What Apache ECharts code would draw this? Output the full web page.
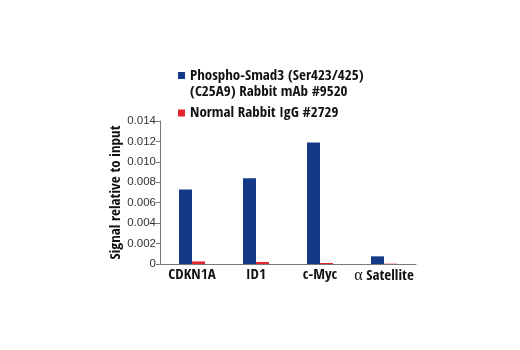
<!DOCTYPE html>
<html>
<head>
<meta charset="utf-8">
<script src="https://cdn.jsdelivr.net/npm/echarts@6/dist/echarts.min.js"></script>
<style>
  html, body { margin: 0; padding: 0; background: #fff; }
  #chart { width: 520px; height: 350px; }
</style>
</head>
<body>
<div id="chart"></div>
<script>
// ChIP signal per target locus
const categories = ['CDKN1A', 'ID1', 'c-Myc', '\u03b1 Satellite'];
const smad3Values = [0.0073, 0.0084, 0.0119, 0.00075];
const iggValues = [0.00025, 0.0002, 0.0001, 0.00003];
const yTicks = [0, 0.002, 0.004, 0.006, 0.008, 0.010, 0.012, 0.014];

const smad3Name = 'Phospho-Smad3 (Ser423/425)\n(C25A9) Rabbit mAb #9520';
const iggName = 'Normal Rabbit IgG #2729';

const BLUE = '#143a87';
const RED = '#e5262f';
const CONDENSED = '"Open Sans Condensed", "Liberation Sans Narrow", sans-serif';

const chart = echarts.init(document.getElementById('chart'), null, { renderer: 'canvas' });

chart.setOption({
  animation: false,
  backgroundColor: '#fff',
  grid: { left: 160, top: 121, width: 256, height: 143, containLabel: false },
  legend: {
    orient: 'vertical',
    left: 173,
    top: 63,
    itemGap: 1,
    itemWidth: 7,
    itemHeight: 24,
    selectedMode: false,
    textStyle: { fontFamily: CONDENSED, fontWeight: 700, fontSize: 15, color: '#111', lineHeight: 16 },
    data: [
      // square sits beside the first text line
      { name: smad3Name, icon: 'path://M0,0h7v7h-7z M0,23.99h0.01v0.01h-0.01z' },
      { name: iggName, icon: 'path://M0,8.5h7v7h-7z M0,0h0.01v0.01h-0.01z M0,23.99h0.01v0.01h-0.01z' }
    ]
  },
  xAxis: {
    type: 'category',
    data: categories,
    axisLine: { lineStyle: { color: '#777', width: 1 } },
    axisTick: { show: false },
    axisLabel: {
      interval: 0,
      fontFamily: CONDENSED,
      fontWeight: 700,
      fontSize: 15,
      color: '#111',
      margin: 4,
      // Greek alpha set in a serif face
      formatter: v => (v.charAt(0) === '\u03b1' ? '{greek|\u03b1}' + v.slice(1) : v),
      rich: {
        greek: { fontFamily: '"Liberation Serif", serif', fontWeight: 'normal', fontSize: 16, color: '#111' }
      }
    }
  },
  yAxis: {
    type: 'value',
    min: 0,
    max: yTicks[yTicks.length - 1],
    interval: yTicks[1] - yTicks[0],
    name: 'Signal relative to input',
    nameLocation: 'middle',
    nameGap: 36,
    nameTextStyle: { fontFamily: CONDENSED, fontWeight: 700, fontSize: 15, color: '#111' },
    splitLine: { show: false },
    axisLine: { show: true, lineStyle: { color: '#777', width: 1 } },
    axisTick: { show: true, length: 4, inside: false, lineStyle: { color: '#777' } },
    axisLabel: {
      fontFamily: '"Liberation Sans", Arial, sans-serif',
      fontSize: 11.5,
      color: '#333',
      margin: 4,
      formatter: v => (v === 0 ? '0' : v.toFixed(3))
    }
  },
  series: [
    {
      name: smad3Name,
      type: 'bar',
      data: smad3Values,
      barWidth: 13,
      barGap: '0%',
      itemStyle: { color: BLUE }
    },
    {
      name: iggName,
      type: 'bar',
      data: iggValues,
      barWidth: 13,
      barGap: '0%',
      itemStyle: { color: RED }
    }
  ]
});
</script>
</body>
</html>
